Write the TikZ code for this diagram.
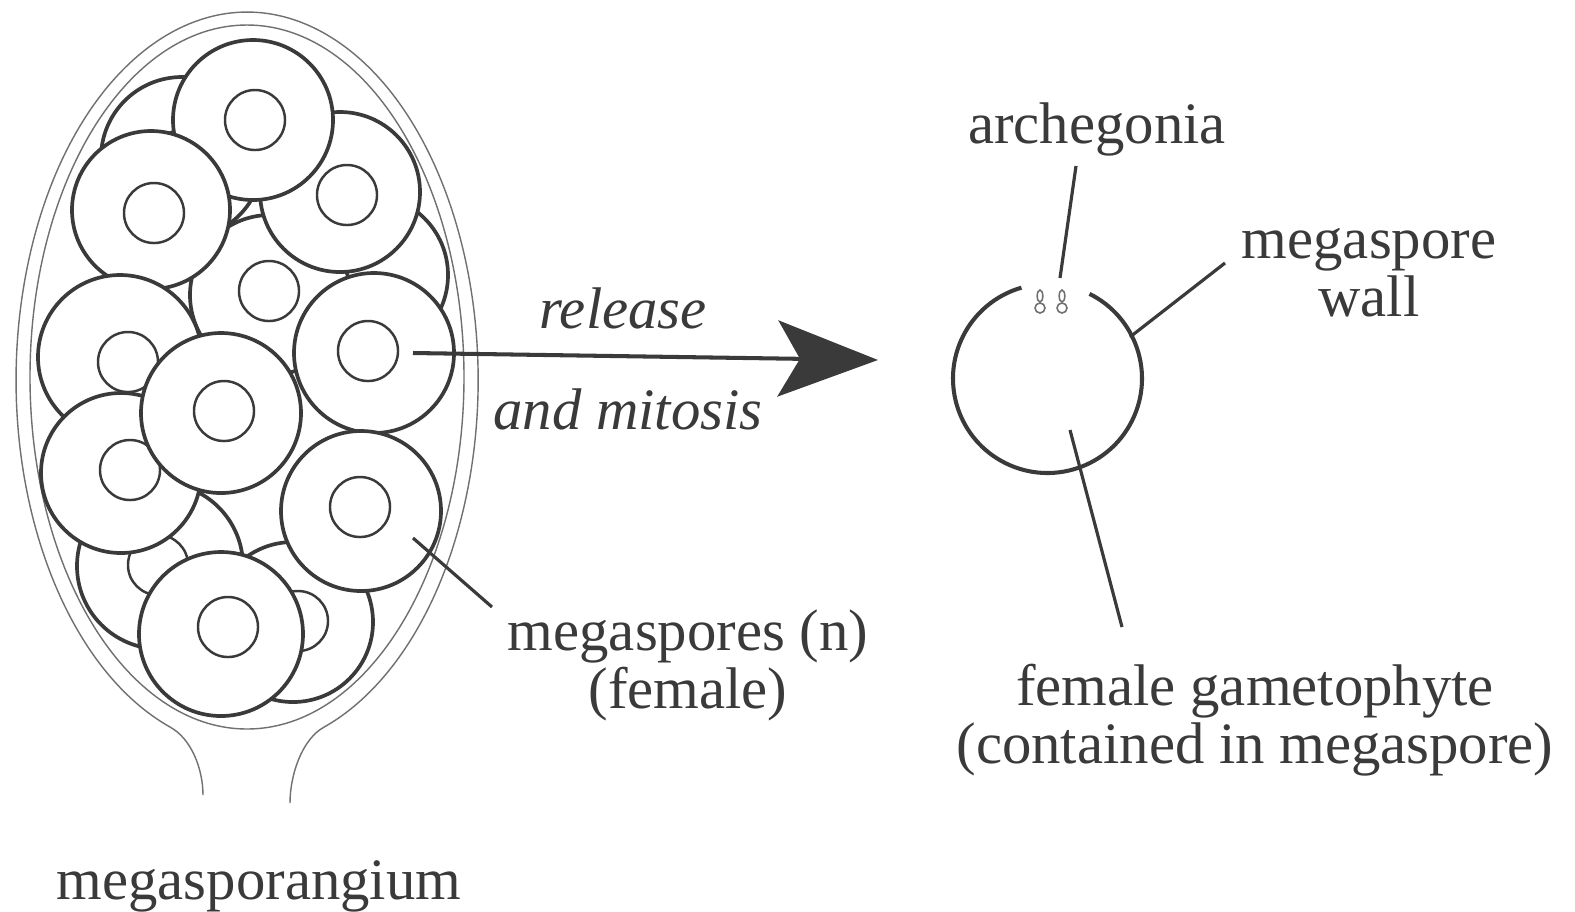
\documentclass[tikz,border=0pt]{standalone}
\usepackage{fontspec}
\setmainfont{Liberation Serif}
\usetikzlibrary{arrows.meta}
\definecolor{inkgrey}{HTML}{3A3A3A}
\definecolor{wallgrey}{HTML}{707070}

\begin{document}
\begin{tikzpicture}[x=0.01cm,y=-0.01cm,
  spore/.style={circle,draw=inkgrey,fill=white,line width=1.05pt,inner sep=0pt},
  nucleus/.style={circle,draw=inkgrey,line width=0.7pt,inner sep=0pt,minimum size=0.6cm},
  wall/.style={wallgrey,line width=0.4pt},
  lbl/.style={font=\fontsize{16.7}{16.5}\selectfont,text=inkgrey,align=center,inner sep=0pt},
  act/.style={lbl,font=\fontsize{16.7}{16.5}\selectfont\itshape},
  ptr/.style={inkgrey,line width=0.9pt},
  arr/.style={-{Stealth[length=10mm,width=7.6mm,inset=2.2mm]},inkgrey,line width=1.15pt}]
  \path[use as bounding box,fill=white] (0,0) rectangle (1575,911);

  % sporangium wall: inner sac, then outer layer running down into the stalk
  \draw[wall] (247,377) ellipse[x radius=217,y radius=352];
  \draw[wall] (203,795) .. controls (203,770) and (192,739) .. (170,727)
    arc[start angle=109.5,end angle=430.5,x radius=231,y radius=368]
    .. controls (302,739) and (290,775) .. (290,803);

  % megaspores, back to front
  \foreach \cx/\cy/\d/\nx/\ny [count=\i] in {
      182/158/162/182/160, 368/275/160/372/310, 270/295/160/269/291,
      340/192/160/347/195, 253/120/160/255/120, 151/210/158/154/213,
      120/357/164/128/362, 374/353/160/368/351, 160/566/166/158/565,
      121/473/160/130/470, 221/413/160/224/411, 293/622/160/298/621,
      361/511/160/360/507, 221/634/164/228/627}{
    \node[spore,minimum size=\d*0.01cm] (s\i) at (\cx,\cy) {};
    \node[nucleus] (n\i) at (\nx,\ny) {};
  }
  \node[lbl] (sporangium) at (259,886) {megasporangium};

  \coordinate (msp-root) at (413,538);
  \coordinate (msp-tip) at (492,607);
  \draw[ptr] (msp-root) -- (msp-tip);
  \node[lbl] (msp) at (688,665) {megaspores (n)\\(female)};

  % release arrow
  \coordinate (arr-tail) at (413,353);
  \coordinate (arr-tip) at (878,360);
  \draw[arr] (arr-tail) -- (arr-tip);
  \node[act] (rel) at (623,308) {release};
  \node[act] (mit) at (628,409) {and mitosis};

  % gametophyte inside the freed megaspore
  \coordinate (gam) at (1047.5,378.5);
  \draw[inkgrey,line width=1.15pt] ([shift={(-63.6:94.5)}]gam)
    arc[start angle=-63.6,end angle=254,radius=94.5];
  \foreach \ax in {1040,1062}{
    \draw[wallgrey,line width=0.45pt] (\ax,308) circle[radius=5];
    \draw[wallgrey,line width=0.45pt] (\ax,296) ellipse[x radius=2.8,y radius=6];
  }

  \coordinate (arch-foot) at (1060,278);
  \coordinate (arch-top) at (1076,166);
  \coordinate (wall-foot) at (1130,337);
  \coordinate (wall-top) at (1225,263);
  \coordinate (gam-foot) at (1070,430);
  \coordinate (gam-end) at (1122,627);
  \draw[ptr] (arch-foot) -- (arch-top);
  \draw[ptr] (wall-foot) -- (wall-top);
  \draw[ptr] (gam-foot) -- (gam-end);

  \node[lbl] (archlbl) at (1097,129) {archegonia};
  \node[lbl] (walllbl) at (1369,273) {megaspore\\wall};
  \node[lbl] (gamlbl) at (1255,720) {female gametophyte\\(contained in megaspore)};
\end{tikzpicture}
\end{document}
